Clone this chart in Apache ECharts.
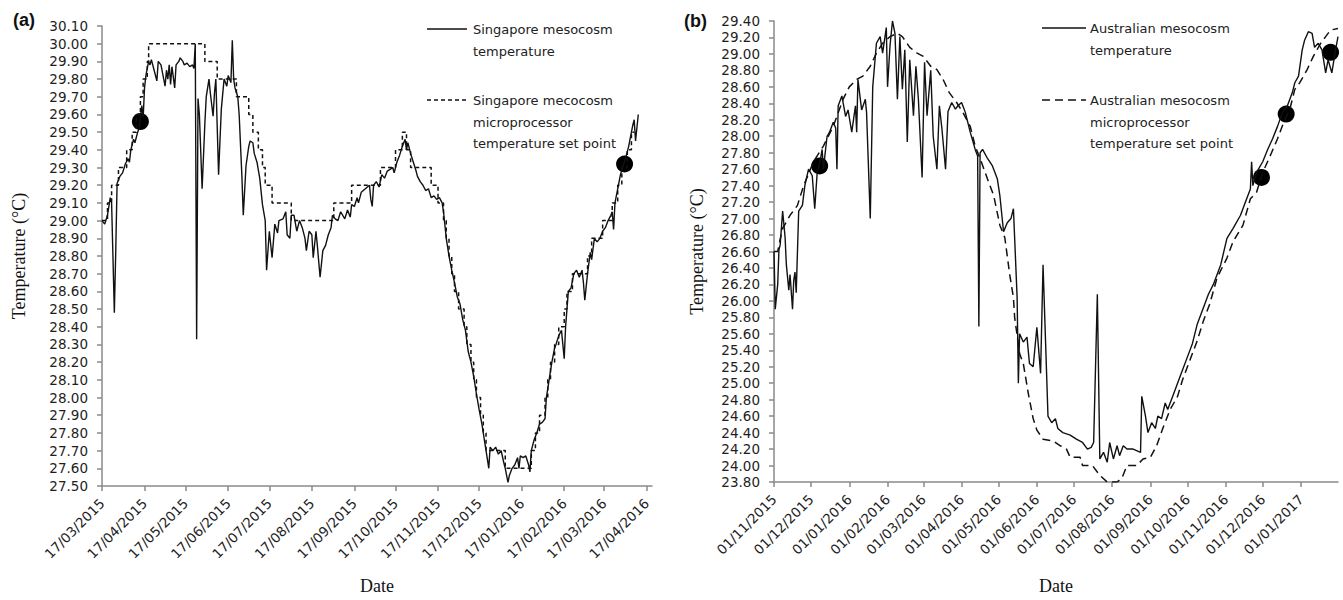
<!DOCTYPE html>
<html><head><meta charset="utf-8">
<script src="https://cdn.jsdelivr.net/npm/echarts@6/dist/echarts.min.js"></script>
<style>html,body{margin:0;padding:0;background:#fff}#c{width:1343px;height:600px}</style>
</head><body><div id="c"></div>
<script>
// ---- Panel (a): Singapore ----
const sgRange = ['17/03/2015', '21/04/2016'];
const sgTickDay = '17';
const sgTemp = [
['17/03/2015',29.00],['19/03/2015',28.98],['21/03/2015',29.03],['23/03/2015',29.13],['24/03/2015',29.10],['26/03/2015',28.48],['27/03/2015',28.82],['28/03/2015',29.21],['30/03/2015',29.25],
['01/04/2015',29.27],['03/04/2015',29.32],['05/04/2015',29.35],['06/04/2015',29.33],['07/04/2015',29.40],['09/04/2015',29.46],['10/04/2015',29.44],['12/04/2015',29.50],['13/04/2015',29.52],['14/04/2015',29.58],['15/04/2015',29.65],['16/04/2015',29.58],['17/04/2015',29.75],['18/04/2015',29.82],['20/04/2015',29.90],['21/04/2015',29.88],['22/04/2015',29.91],['24/04/2015',29.85],['26/04/2015',29.79],['27/04/2015',29.90],['29/04/2015',29.88],
['01/05/2015',29.80],['02/05/2015',29.76],['03/05/2015',29.85],['04/05/2015',29.80],['05/05/2015',29.88],['06/05/2015',29.77],['07/05/2015',29.87],['09/05/2015',29.75],['10/05/2015',29.88],['12/05/2015',29.90],['13/05/2015',29.92],['15/05/2015',29.90],['16/05/2015',29.88],['18/05/2015',29.89],['20/05/2015',29.87],['22/05/2015',29.88],['23/05/2015',29.86],['24/05/2015',30.00],['25/05/2015',28.33],['26/05/2015',29.69],['27/05/2015',29.60],['29/05/2015',29.18],['31/05/2015',29.55],
['01/06/2015',29.70],['03/06/2015',29.80],['04/06/2015',29.72],['06/06/2015',29.59],['07/06/2015',29.72],['08/06/2015',29.80],['10/06/2015',29.26],['11/06/2015',29.45],['12/06/2015',29.63],['14/06/2015',29.80],['16/06/2015',29.76],['17/06/2015',29.82],['19/06/2015',29.78],['20/06/2015',30.02],['21/06/2015',29.80],['22/06/2015',29.75],['24/06/2015',29.70],['25/06/2015',29.60],['27/06/2015',29.25],['28/06/2015',29.03],['30/06/2015',29.31],
['02/07/2015',29.42],['03/07/2015',29.45],['05/07/2015',29.44],['06/07/2015',29.38],['08/07/2015',29.33],['10/07/2015',29.24],['12/07/2015',29.09],['14/07/2015',29.00],['15/07/2015',28.72],['17/07/2015',28.94],['19/07/2015',28.79],['21/07/2015',28.98],['23/07/2015',28.93],['24/07/2015',29.00],['27/07/2015',29.01],['29/07/2015',29.05],['30/07/2015',28.92],
['01/08/2015',28.90],['02/08/2015',29.03],['04/08/2015',29.03],['06/08/2015',28.94],['08/08/2015',29.00],['10/08/2015',28.96],['12/08/2015',28.90],['13/08/2015',28.83],['15/08/2015',28.94],['17/08/2015',28.92],['18/08/2015',28.79],['20/08/2015',28.94],['21/08/2015',28.86],['23/08/2015',28.68],['25/08/2015',28.83],['27/08/2015',28.86],['29/08/2015',28.92],['31/08/2015',28.96],
['01/09/2015',29.03],['03/09/2015',29.01],['05/09/2015',29.00],['07/09/2015',29.05],['10/09/2015',29.01],['12/09/2015',29.06],['14/09/2015',29.02],['15/09/2015',29.09],['17/09/2015',29.08],['19/09/2015',29.13],['20/09/2015',29.10],['22/09/2015',29.16],['25/09/2015',29.18],['28/09/2015',29.20],['29/09/2015',29.12],['30/09/2015',29.08],
['01/10/2015',29.20],['03/10/2015',29.22],['05/10/2015',29.19],['07/10/2015',29.26],['09/10/2015',29.24],['11/10/2015',29.28],['13/10/2015',29.29],['15/10/2015',29.30],['16/10/2015',29.27],['18/10/2015',29.33],['20/10/2015',29.37],['22/10/2015',29.42],['24/10/2015',29.46],['25/10/2015',29.40],['26/10/2015',29.44],['28/10/2015',29.38],['30/10/2015',29.33],
['01/11/2015',29.28],['02/11/2015',29.25],['04/11/2015',29.22],['06/11/2015',29.20],['08/11/2015',29.17],['10/11/2015',29.18],['12/11/2015',29.13],['14/11/2015',29.14],['16/11/2015',29.12],['18/11/2015',29.13],['20/11/2015',29.10],['21/11/2015',29.05],['23/11/2015',28.90],['25/11/2015',28.80],['27/11/2015',28.72],['29/11/2015',28.65],
['01/12/2015',28.57],['03/12/2015',28.53],['05/12/2015',28.44],['07/12/2015',28.38],['09/12/2015',28.26],['11/12/2015',28.20],['13/12/2015',28.12],['15/12/2015',28.02],['17/12/2015',27.93],['19/12/2015',27.85],['21/12/2015',27.75],['23/12/2015',27.65],['24/12/2015',27.60],['25/12/2015',27.72],['27/12/2015',27.70],['29/12/2015',27.72],['31/12/2015',27.68],
['02/01/2016',27.70],['04/01/2016',27.63],['05/01/2016',27.60],['07/01/2016',27.52],['08/01/2016',27.56],['10/01/2016',27.60],['12/01/2016',27.62],['14/01/2016',27.66],['15/01/2016',27.60],['16/01/2016',27.67],['18/01/2016',27.66],['20/01/2016',27.67],['22/01/2016',27.62],['23/01/2016',27.58],['24/01/2016',27.70],['26/01/2016',27.76],['28/01/2016',27.80],['30/01/2016',27.85],
['01/02/2016',27.86],['03/02/2016',27.88],['04/02/2016',28.00],['06/02/2016',28.10],['08/02/2016',28.20],['10/02/2016',28.28],['11/02/2016',28.30],['13/02/2016',28.35],['15/02/2016',28.38],['17/02/2016',28.22],['18/02/2016',28.40],['19/02/2016',28.50],['20/02/2016',28.60],['22/02/2016',28.62],['24/02/2016',28.70],['26/02/2016',28.72],['28/02/2016',28.68],
['01/03/2016',28.72],['02/03/2016',28.65],['03/03/2016',28.55],['05/03/2016',28.70],['07/03/2016',28.82],['08/03/2016',28.78],['10/03/2016',28.90],['12/03/2016',28.88],['14/03/2016',28.90],['16/03/2016',28.94],['18/03/2016',28.96],['20/03/2016',29.00],['22/03/2016',29.03],['23/03/2016',29.05],['24/03/2016',28.95],['25/03/2016',29.10],['27/03/2016',29.18],['29/03/2016',29.26],['31/03/2016',29.31],
['02/04/2016',29.36],['04/04/2016',29.42],['05/04/2016',29.46],['07/04/2016',29.54],['08/04/2016',29.57],['09/04/2016',29.45],['11/04/2016',29.60]
];
const sgSetPoint = [
['17/03/2015',29.0],['21/03/2015',29.1],['24/03/2015',29.2],['29/03/2015',29.3],['04/04/2015',29.4],['08/04/2015',29.5],['11/04/2015',29.6],['14/04/2015',29.7],['16/04/2015',29.8],['19/04/2015',29.9],['20/04/2015',30.0],
['31/05/2015',29.9],['09/06/2015',29.8],['23/06/2015',29.7],['02/07/2015',29.6],['05/07/2015',29.5],['09/07/2015',29.4],['12/07/2015',29.3],['14/07/2015',29.2],['19/07/2015',29.1],['02/08/2015',29.0],
['02/09/2015',29.1],['15/09/2015',29.2],['06/10/2015',29.3],['17/10/2015',29.4],['22/10/2015',29.5],['25/10/2015',29.4],['28/10/2015',29.3],['12/11/2015',29.2],['17/11/2015',29.1],['21/11/2015',29.0],['23/11/2015',28.9],['25/11/2015',28.8],['27/11/2015',28.7],['29/11/2015',28.6],
['02/12/2015',28.5],['06/12/2015',28.4],['08/12/2015',28.3],['11/12/2015',28.2],['13/12/2015',28.1],['15/12/2015',28.0],['18/12/2015',27.9],['20/12/2015',27.8],['22/12/2015',27.7],['05/01/2016',27.6],['24/01/2016',27.7],['27/01/2016',27.8],['30/01/2016',27.9],
['03/02/2016',28.0],['05/02/2016',28.1],['07/02/2016',28.2],['10/02/2016',28.3],['13/02/2016',28.4],['17/02/2016',28.5],['19/02/2016',28.6],['23/02/2016',28.7],['05/03/2016',28.8],['08/03/2016',28.9],['16/03/2016',29.0],['23/03/2016',29.1],['27/03/2016',29.2],['30/03/2016',29.3],['03/04/2016',29.4],['06/04/2016',29.5],['08/04/2016',29.5]
];
const sgDots = [['14/04/2015',29.56],['01/04/2016',29.32]];

// ---- Panel (b): Australia ----
const auRange = ['01/11/2015', '31/01/2017'];
const auTickDay = '01';
const auTemp = [
['01/11/2015',26.60],['02/11/2015',25.90],['04/11/2015',26.20],['05/11/2015',26.62],['06/11/2015',26.68],['08/11/2015',27.09],['10/11/2015',26.77],['11/11/2015',26.44],['13/11/2015',26.13],['14/11/2015',26.32],['16/11/2015',25.90],['17/11/2015',26.25],['18/11/2015',26.35],['19/11/2015',26.10],['21/11/2015',27.09],['24/11/2015',27.16],['26/11/2015',27.40],['29/11/2015',27.60],
['02/12/2015',27.52],['04/12/2015',27.12],['06/12/2015',27.56],['08/12/2015',27.66],['10/12/2015',27.84],['11/12/2015',27.60],['14/12/2015',28.00],['16/12/2015',28.05],['19/12/2015',28.17],['21/12/2015',28.10],['22/12/2015',27.60],['23/12/2015',28.37],['26/12/2015',28.49],['29/12/2015',28.24],['31/12/2015',28.32],
['03/01/2016',28.05],['06/01/2016',28.37],['07/01/2016',28.05],['08/01/2016',28.69],['11/01/2016',28.32],['14/01/2016',28.45],['15/01/2016',28.29],['18/01/2016',27.00],['20/01/2016',28.60],['23/01/2016',29.13],['26/01/2016',29.21],['28/01/2016',29.01],['31/01/2016',29.32],
['01/02/2016',28.60],['03/02/2016',29.10],['05/02/2016',29.40],['07/02/2016',29.25],['09/02/2016',28.45],['11/02/2016',29.21],['13/02/2016',28.57],['15/02/2016',29.05],['17/02/2016',27.93],['19/02/2016',28.93],['22/02/2016',28.25],['24/02/2016',28.85],['26/02/2016',28.45],['29/02/2016',27.50],
['02/03/2016',28.90],['04/03/2016',28.25],['07/03/2016',28.80],['09/03/2016',28.00],['12/03/2016',27.60],['14/03/2016',28.37],['16/03/2016',28.10],['19/03/2016',27.60],['21/03/2016',28.30],['24/03/2016',28.41],['27/03/2016',28.33],['29/03/2016',28.37],
['01/04/2016',28.41],['04/04/2016',28.29],['08/04/2016',28.05],['12/04/2016',27.84],['14/04/2016',27.76],['15/04/2016',25.69],['16/04/2016',27.80],['18/04/2016',27.84],['22/04/2016',27.73],['26/04/2016',27.64],['30/04/2016',27.48],
['02/05/2016',27.28],['05/05/2016',26.84],['08/05/2016',26.95],['11/05/2016',27.00],['13/05/2016',27.12],['16/05/2016',26.04],['17/05/2016',25.00],['18/05/2016',25.60],['21/05/2016',25.50],['24/05/2016',25.56],['26/05/2016',25.24],['29/05/2016',25.20],
['01/06/2016',25.68],['04/06/2016',25.12],['06/06/2016',26.44],['10/06/2016',24.60],['13/06/2016',24.52],['16/06/2016',24.57],['18/06/2016',24.45],['22/06/2016',24.40],['28/06/2016',24.37],
['03/07/2016',24.32],['08/07/2016',24.28],['12/07/2016',24.20],['15/07/2016',24.22],['17/07/2016',24.28],['20/07/2016',26.08],['22/07/2016',24.08],['25/07/2016',24.16],['28/07/2016',24.04],['30/07/2016',24.28],
['02/08/2016',24.08],['05/08/2016',24.24],['07/08/2016',24.12],['10/08/2016',24.24],['13/08/2016',24.20],['18/08/2016',24.20],['24/08/2016',24.16],['25/08/2016',24.84],['28/08/2016',24.60],['30/08/2016',24.40],
['02/09/2016',24.52],['05/09/2016',24.45],['07/09/2016',24.60],['10/09/2016',24.57],['13/09/2016',24.76],['15/09/2016',24.68],['19/09/2016',24.84],['23/09/2016',25.00],['27/09/2016',25.16],
['01/10/2016',25.32],['05/10/2016',25.48],['09/10/2016',25.72],['14/10/2016',25.92],['18/10/2016',26.08],['22/10/2016',26.20],['28/10/2016',26.44],
['02/11/2016',26.76],['07/11/2016',26.88],['13/11/2016',27.04],['17/11/2016',27.20],['21/11/2016',27.36],['22/11/2016',27.69],['23/11/2016',27.40],['26/11/2016',27.56],
['01/12/2016',27.69],['05/12/2016',27.84],['09/12/2016',27.97],['13/12/2016',28.12],['17/12/2016',28.29],['21/12/2016',28.37],['25/12/2016',28.53],['27/12/2016',28.65],['30/12/2016',28.73],
['02/01/2017',29.05],['04/01/2017',29.17],['07/01/2017',29.27],['10/01/2017',29.25],['12/01/2017',29.08],['15/01/2017',29.13],['18/01/2017',29.05],['21/01/2017',28.77],['23/01/2017',28.93],['26/01/2017',28.77],['29/01/2017',29.05],['31/01/2017',29.21]
];
const auSetPoint = [
['01/11/2015',26.60],['04/11/2015',26.60],['06/11/2015',26.75],['08/11/2015',26.88],['14/11/2015',27.04],['20/11/2015',27.16],['25/11/2015',27.40],['03/12/2015',27.69],['11/12/2015',27.88],['19/12/2015',28.12],['27/12/2015',28.45],
['01/01/2016',28.60],['07/01/2016',28.69],['12/01/2016',28.73],['18/01/2016',28.85],['23/01/2016',29.01],['28/01/2016',29.13],['03/02/2016',29.21],['09/02/2016',29.25],['13/02/2016',29.21],['19/02/2016',29.08],['25/02/2016',29.01],
['01/03/2016',28.97],['07/03/2016',28.85],['12/03/2016',28.81],['17/03/2016',28.69],['22/03/2016',28.53],['28/03/2016',28.41],['02/04/2016',28.29],['08/04/2016',28.12],['12/04/2016',27.88],['16/04/2016',27.73],['22/04/2016',27.48],['27/04/2016',27.28],
['02/05/2016',26.92],['06/05/2016',26.77],['10/05/2016',26.32],['13/05/2016',26.04],['14/05/2016',25.80],['18/05/2016',25.36],['21/05/2016',25.24],['25/05/2016',24.88],['29/05/2016',24.57],
['01/06/2016',24.43],['06/06/2016',24.32],['14/06/2016',24.30],['20/06/2016',24.24],['25/06/2016',24.20],['28/06/2016',24.10],['06/07/2016',24.10],['08/07/2016',24.00],['16/07/2016',24.00],['22/07/2016',23.88],['28/07/2016',23.80],
['05/08/2016',23.80],['09/08/2016',23.85],['13/08/2016',24.00],['21/08/2016',24.00],['26/08/2016',24.08],['01/09/2016',24.10],['06/09/2016',24.24],['11/09/2016',24.45],['17/09/2016',24.68],['23/09/2016',24.84],['27/09/2016',25.04],
['03/10/2016',25.28],['09/10/2016',25.52],['14/10/2016',25.76],['19/10/2016',25.96],['25/10/2016',26.28],['02/11/2016',26.52],['07/11/2016',26.72],['15/11/2016',26.92],['21/11/2016',27.24],['26/11/2016',27.32],
['01/12/2016',27.56],['07/12/2016',27.76],['13/12/2016',27.97],['18/12/2016',28.17],['23/12/2016',28.33],['27/12/2016',28.57],['31/12/2016',28.65],['06/01/2017',28.81],['11/01/2017',28.97],['17/01/2017',29.13],['21/01/2017',29.21],['25/01/2017',29.29],['31/01/2017',29.31]
];
const auDots = [['08/12/2015',27.64],['30/11/2016',27.50],['20/12/2016',28.27],['25/01/2017',29.02]];

const legendA = ['Singapore mesocosm\ntemperature', 'Singapore mecocosm\nmicroprocessor\ntemperature set point'];
const legendB = ['Australian mesocosm\ntemperature', 'Australian mesocosm\nmicroprocessor\ntemperature set point'];

function dayList(a, b) {
  const p = s => { const [d, m, y] = s.split('/').map(Number); return Date.UTC(y, m - 1, d); };
  const f = n => String(n).padStart(2, '0');
  const out = [];
  for (let t = p(a); t <= p(b); t += 86400000) {
    const D = new Date(t);
    out.push(f(D.getUTCDate()) + '/' + f(D.getUTCMonth() + 1) + '/' + D.getUTCFullYear());
  }
  return out;
}

const INK = '#111';
const AXIS = '#8a8a8a';
const labelFont = '"DejaVu Sans", Verdana, sans-serif';
const serif = '"Liberation Serif", "Times New Roman", serif';

function xAxisFor(gridIndex, range, tickDay, nameGap) {
  const fn = (i, v) => v.slice(0, 2) === tickDay;
  return {
    type: 'category', gridIndex, data: dayList(range[0], range[1]), boundaryGap: false,
    axisLine: { lineStyle: { color: AXIS, width: 1.5 } },
    axisTick: { interval: fn, length: 5, lineStyle: { color: AXIS, width: 1.5 } },
    axisLabel: { interval: fn, rotate: 45, color: '#1e1e1e', fontFamily: labelFont, fontSize: 13.5, margin: 15 },
    name: 'Date', nameLocation: 'middle', nameGap,
    nameTextStyle: { fontFamily: serif, fontSize: 18, color: '#111' }
  };
}
function yAxisFor(gridIndex, min, max, interval, nameGap) {
  return {
    type: 'value', gridIndex, min, max, interval,
    splitLine: { show: false },
    axisLine: { show: true, lineStyle: { color: AXIS, width: 1.5 } },
    axisTick: { show: true, length: 5, lineStyle: { color: AXIS, width: 1.5 } },
    axisLabel: { formatter: v => v.toFixed(2), color: '#1e1e1e', fontFamily: labelFont, fontSize: 13.5, margin: 14 },
    name: 'Temperature (°C)', nameLocation: 'middle', nameGap, nameRotate: 90,
    nameTextStyle: { fontFamily: serif, fontSize: 18, color: '#111' }
  };
}
function legendGraphics(x1, x2, tx, y1, y2, texts, dash) {
  const font = '13px ' + labelFont;
  return [
    { type: 'line', shape: { x1, y1, x2, y2: y1 }, style: { stroke: INK, lineWidth: 1.3 } },
    { type: 'text', x: tx, y: y1 - 10, style: { text: texts[0], font, fill: '#222', lineHeight: 21.5 } },
    { type: 'line', shape: { x1, y1: y2, x2, y2 }, style: { stroke: INK, lineWidth: 1.3, lineDash: dash } },
    { type: 'text', x: tx, y: y2 - 10, style: { text: texts[1], font, fill: '#222', lineHeight: 21.5 } }
  ];
}

const chart = echarts.init(document.getElementById('c'), null, { renderer: 'svg' });
chart.setOption({
  animation: false,
  backgroundColor: '#fff',
  grid: [
    { left: 102, top: 26, width: 550, height: 465 },
    { left: 774, top: 21, width: 564, height: 466 }
  ],
  xAxis: [xAxisFor(0, sgRange, sgTickDay, 91), xAxisFor(1, auRange, auTickDay, 95)],
  yAxis: [yAxisFor(0, 27.5, 30.1, 0.1, 74), yAxisFor(1, 23.8, 29.4, 0.2, 68)],
  series: [
    { type: 'line', xAxisIndex: 0, yAxisIndex: 0, data: sgSetPoint, step: 'end', symbol: 'none', lineStyle: { color: INK, width: 1.5, type: [4, 3] } },
    { type: 'line', xAxisIndex: 0, yAxisIndex: 0, data: sgTemp, symbol: 'none', lineStyle: { color: INK, width: 1.4 } },
    { type: 'scatter', xAxisIndex: 0, yAxisIndex: 0, data: sgDots, symbolSize: 17, itemStyle: { color: '#000', opacity: 1 } },
    { type: 'line', xAxisIndex: 1, yAxisIndex: 1, data: auSetPoint, symbol: 'none', lineStyle: { color: INK, width: 1.5, type: [8, 5] } },
    { type: 'line', xAxisIndex: 1, yAxisIndex: 1, data: auTemp, symbol: 'none', lineStyle: { color: INK, width: 1.4 } },
    { type: 'scatter', xAxisIndex: 1, yAxisIndex: 1, data: auDots, symbolSize: 17, itemStyle: { color: '#000', opacity: 1 } }
  ],
  graphic: [
    { type: 'text', x: 13, y: 11, style: { text: '(a)', font: 'bold 18px "Liberation Sans", Arial, sans-serif', fill: '#111' } },
    { type: 'text', x: 684, y: 12, style: { text: '(b)', font: 'bold 18px "Liberation Sans", Arial, sans-serif', fill: '#111' } },
    ...legendGraphics(427, 467, 473, 29, 100, legendA, [4, 3]),
    ...legendGraphics(1042, 1086, 1090, 28, 100, legendB, [8, 5])
  ]
});
</script></body></html>
